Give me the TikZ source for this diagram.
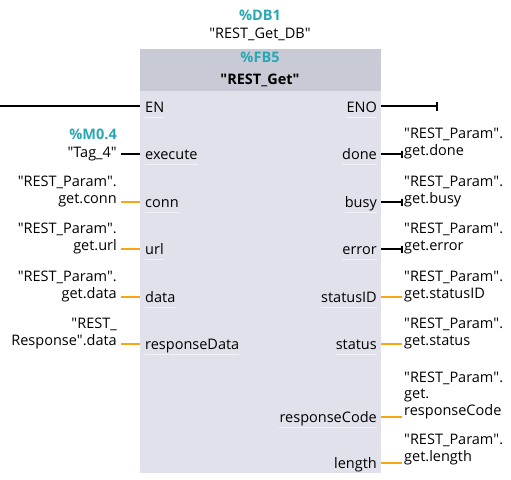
\documentclass[tikz,border=0pt]{standalone}
\usepackage{fontspec}
\setmainfont{Open Sans}
\usetikzlibrary{arrows.meta}
\definecolor{tiateal}{RGB}{40,168,178}
\definecolor{tiaorange}{RGB}{250,165,20}
\definecolor{tiahead}{RGB}{200,202,214}
\definecolor{tiabody}{RGB}{224,225,234}
\newcommand{\qt}{\textquotedbl}

\begin{document}
\begin{tikzpicture}[x=1pt,y=-1pt,
    font=\fontsize{14.5}{16.5}\selectfont,
    pin/.style={inner sep=0pt,text height=15pt,text depth=5pt},
    ext/.style={inner sep=0pt,align=right,execute at end node=\strut},
    extr/.style={inner sep=0pt,align=left,execute at end node=\strut},
    addr/.style={inner sep=0pt,text=tiateal,font=\fontsize{14.5}{16.5}\selectfont\bfseries},
    sep/.style={white,line width=0.8pt,opacity=0.6},
    bool/.style={line width=2pt},
    wire/.style={line width=2pt,tiaorange}]
            \useasboundingbox (0,0) rectangle (511,479);
            % block
            \node[fill=tiabody,inner sep=0pt,minimum width=241pt,minimum height=424pt,anchor=north west] (fb) at (140,49) {};
            \node[fill=tiahead,inner sep=0pt,minimum width=241pt,minimum height=42pt,anchor=north west] (hd) at (140,49) {};
            \node[addr,anchor=base] (db) at (260,20) {\%DB1};
            \node[inner sep=0pt,anchor=base] (dbname) at (260,38) {\qt REST\_Get\_DB\qt};
            \node[addr,anchor=base] (fbnum) at (260,62) {\%FB5};
            \node[inner sep=0pt,anchor=base,font=\fontsize{14.5}{16.5}\selectfont\bfseries] (fbname) at (260,84) {\qt REST\_Get\qt};
            % pins
            \node[pin,anchor=west] (en) at (145,107) {EN};
            \node[pin,anchor=east] (eno) at (377,107) {ENO};
            \node[pin,anchor=west] (execute) at (145,154) {execute};
            \node[pin,anchor=west] (conn) at (145,202) {conn};
            \node[pin,anchor=west] (url) at (145,249) {url};
            \node[pin,anchor=west] (data) at (145,297) {data};
            \node[pin,anchor=west] (respdata) at (145,344) {responseData};
            \node[pin,anchor=east] (done) at (377,154) {done};
            \node[pin,anchor=east] (busy) at (377,202) {busy};
            \node[pin,anchor=east] (error) at (377,249) {error};
            \node[pin,anchor=east] (statusid) at (377,297) {statusID};
            \node[pin,anchor=east] (status) at (377,344) {status};
            \node[pin,anchor=east] (respcode) at (377,417) {responseCode};
            \node[pin,anchor=east] (length) at (377,463) {length};
            \foreach \p in {en,eno,execute,conn,url,data,respdata,done,busy,error,statusid,status,respcode,length}
                \draw[sep] (\p.south west) -- (\p.south east);
            % inputs
            \node[addr,anchor=base east] (executea) at (117,139) {\%M0.4};
            \node[ext,anchor=south east] (executev) at (117,163) {\qt Tag\_4\qt};
            \node[ext,anchor=south east] (connv) at (117,208.5) {\qt REST\_Param\qt.\\get.conn};
            \node[ext,anchor=south east] (urlv) at (117,255.5) {\qt REST\_Param\qt.\\get.url};
            \node[ext,anchor=south east] (datav) at (117,303.5) {\qt REST\_Param\qt.\\get.data};
            \node[ext,anchor=south east] (respdatav) at (117,350.5) {\qt REST\_\\Response\qt.data};
            % outputs
            \node[extr,anchor=south west] (donev) at (404,160.5) {\qt REST\_Param\qt.\\get.done};
            \node[extr,anchor=south west] (busyv) at (404,208.5) {\qt REST\_Param\qt.\\get.busy};
            \node[extr,anchor=south west] (errorv) at (404,255.5) {\qt REST\_Param\qt.\\get.error};
            \node[extr,anchor=south west] (statusidv) at (404,303.5) {\qt REST\_Param\qt.\\get.statusID};
            \node[extr,anchor=south west] (statusv) at (404,350.5) {\qt REST\_Param\qt.\\get.status};
            \node[extr,anchor=south west] (respcodev) at (404,420.5) {\qt REST\_Param\qt.\\get.\\responseCode};
            \node[extr,anchor=south west] (lengthv) at (404,466.5) {\qt REST\_Param\qt.\\get.length};
            % connections
            \coordinate (rail) at (0,106);
            \coordinate (enoend) at (438,106);
            \draw[bool] (rail) -- (rail -| fb.west);
            \draw[bool,-{Bar[width=9pt]}] (enoend -| fb.east) -- (enoend);
            \draw[bool,shorten >=4pt] (execute -| fb.west) -- (execute -| executev.east);
            \draw[wire,shorten >=4pt] (conn -| fb.west) -- (conn -| connv.east);
            \draw[wire,shorten >=4pt] (url -| fb.west) -- (url -| urlv.east);
            \draw[wire,shorten >=4pt] (data -| fb.west) -- (data -| datav.east);
            \draw[wire,shorten >=4pt] (respdata -| fb.west) -- (respdata -| respdatav.east);
            \draw[bool,-{Bar[width=7pt]},shorten >=1pt] (done -| fb.east) -- (done -| donev.west);
            \draw[bool,-{Bar[width=7pt]},shorten >=1pt] (busy -| fb.east) -- (busy -| busyv.west);
            \draw[bool,-{Bar[width=7pt]},shorten >=1pt] (error -| fb.east) -- (error -| errorv.west);
            \draw[wire,shorten >=2pt] (statusid -| fb.east) -- (statusid -| statusidv.west);
            \draw[wire,shorten >=2pt] (status -| fb.east) -- (status -| statusv.west);
            \draw[wire,shorten >=2pt] (respcode -| fb.east) -- (respcode -| respcodev.west);
            \draw[wire,shorten >=2pt] (length -| fb.east) -- (length -| lengthv.west);
        \end{tikzpicture}
\end{document}
